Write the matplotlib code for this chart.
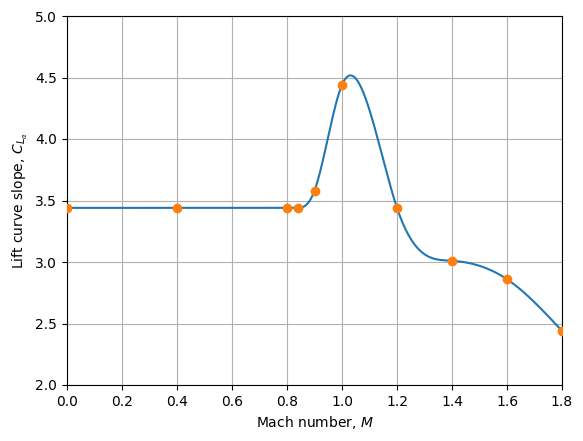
import numpy as np
import matplotlib
matplotlib.use("Agg")
import matplotlib.pyplot as plt

# data points (Mach number, lift curve slope)
mach = [0.0, 0.4, 0.8, 0.84, 0.9, 1.0, 1.2, 1.4, 1.6, 1.8]
cla = [3.44, 3.44, 3.44, 3.44, 3.58, 4.44, 3.44, 3.01, 2.86, 2.44]
x_ticks = [0.0, 0.2, 0.4, 0.6, 0.8, 1.0, 1.2, 1.4, 1.6, 1.8]
y_ticks = [2.0, 2.5, 3.0, 3.5, 4.0, 4.5, 5.0]


def clamped_spline(x, y, d0, xs):
    """Cubic spline through (x, y) with first derivative d0 at start, natural at end."""
    x = np.asarray(x, float)
    y = np.asarray(y, float)
    n = len(x)
    h = np.diff(x)
    A = np.zeros((n, n))
    b = np.zeros(n)
    A[0, 0] = 2 * h[0]
    A[0, 1] = h[0]
    b[0] = 6 * ((y[1] - y[0]) / h[0] - d0)
    for i in range(1, n - 1):
        A[i, i - 1] = h[i - 1]
        A[i, i] = 2 * (h[i - 1] + h[i])
        A[i, i + 1] = h[i]
        b[i] = 6 * ((y[i + 1] - y[i]) / h[i] - (y[i] - y[i - 1]) / h[i - 1])
    A[n - 1, n - 1] = 1.0
    M = np.linalg.solve(A, b)
    idx = np.clip(np.searchsorted(x, xs) - 1, 0, n - 2)
    xi, xi1 = x[idx], x[idx + 1]
    hi = xi1 - xi
    t1 = xi1 - xs
    t0 = xs - xi
    return (M[idx] * t1 ** 3 / (6 * hi) + M[idx + 1] * t0 ** 3 / (6 * hi)
            + (y[idx] / hi - M[idx] * hi / 6) * t1
            + (y[idx + 1] / hi - M[idx + 1] * hi / 6) * t0)


k = mach.index(0.84)
xs = np.linspace(mach[k], mach[-1], 400)
ys = clamped_spline(mach[k:], cla[k:], 0.0, xs)
x_line = np.concatenate([[mach[0]], xs])
y_line = np.concatenate([[cla[0]], ys])

fig = plt.figure(figsize=(5.83, 4.41), dpi=100)
ax = fig.add_axes([67 / 583, 56 / 441, 495 / 583, 369 / 441])
ax.plot(x_line, y_line, color="#1f77b4", lw=1.5)
ax.plot(mach, cla, "o", color="#ff7f0e", ms=6, zorder=3)
ax.set_xlim(0, 1.8)
ax.set_ylim(2, 5)
ax.set_xticks(x_ticks)
ax.set_yticks(y_ticks)
ax.grid(True)
ax.set_xlabel("Mach number, $M$")
ax.set_ylabel(r"Lift curve slope, $C_{L_\alpha}$")
fig.savefig("out.png", dpi=100)
